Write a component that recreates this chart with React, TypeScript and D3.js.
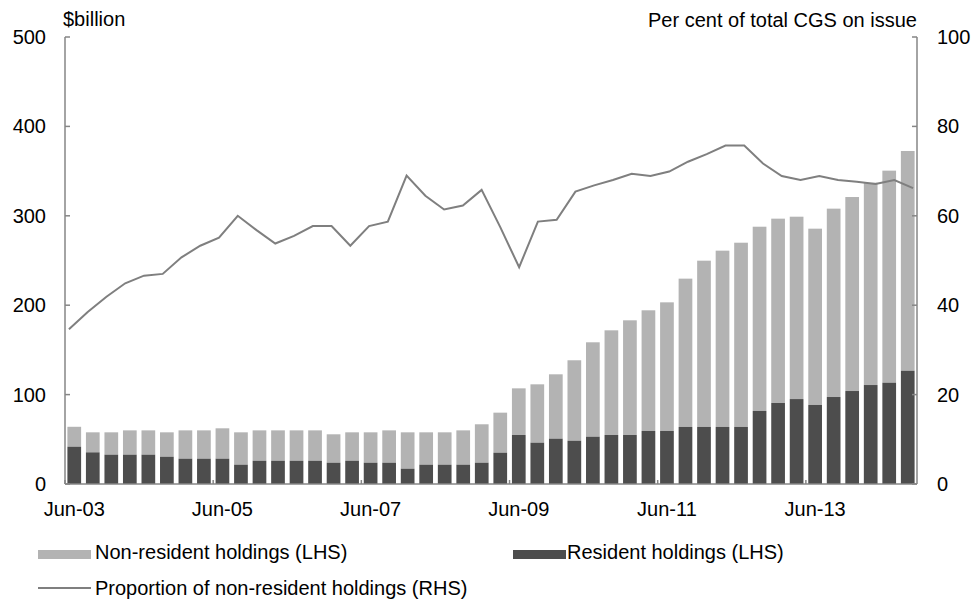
import { scaleBand, scaleLinear, scalePoint, line } from 'd3'

const quarters = [
  'Jun-03', 'Sep-03', 'Dec-03', 'Mar-04', 'Jun-04', 'Sep-04', 'Dec-04', 'Mar-05',
  'Jun-05', 'Sep-05', 'Dec-05', 'Mar-06', 'Jun-06', 'Sep-06', 'Dec-06', 'Mar-07',
  'Jun-07', 'Sep-07', 'Dec-07', 'Mar-08', 'Jun-08', 'Sep-08', 'Dec-08', 'Mar-09',
  'Jun-09', 'Sep-09', 'Dec-09', 'Mar-10', 'Jun-10', 'Sep-10', 'Dec-10', 'Mar-11',
  'Jun-11', 'Sep-11', 'Dec-11', 'Mar-12', 'Jun-12', 'Sep-12', 'Dec-12', 'Mar-13',
  'Jun-13', 'Sep-13', 'Dec-13', 'Mar-14', 'Jun-14', 'Sep-14',
]

// $billion, stacked: resident at the bottom, non-resident on top
const residentHoldings = [
  41.7, 35.4, 32.8, 32.8, 32.8, 30.5, 28.3, 28.3, 28.3, 21.6,
  26, 26, 26, 26, 23.8, 26, 23.8, 23.8, 17.1, 21.6,
  21.6, 21.6, 23.8, 35, 54.8, 46.2, 50.7, 48.4, 52.9, 54.8,
  54.8, 59.3, 59.3, 63.8, 63.8, 63.8, 63.8, 81.7, 90.6, 95,
  88.4, 97.3, 104, 110.7, 113.3, 126.7,
]

const nonResidentHoldings = [
  22.3, 22.4, 25, 27.2, 27.2, 27.3, 31.7, 31.7, 34, 36.2,
  34, 34, 34, 34, 31.8, 31.8, 34, 36.2, 40.7, 36.2,
  36.2, 38.4, 43, 44.8, 52.2, 65.3, 72, 90, 105.6, 117.1,
  128.3, 135, 143.9, 165.9, 186, 197.2, 206.1, 206.1, 206.2, 204,
  197.2, 210.7, 217, 226.3, 237.2, 245.8,
]

// per cent of total CGS on issue
const nonResidentShare = [
  34.6, 38.5, 41.9, 44.9, 46.6, 47, 50.7, 53.3, 55.1, 60,
  56.8, 53.8, 55.5, 57.7, 57.7, 53.3, 57.7, 58.7, 69, 64.5,
  61.4, 62.3, 65.8, 57.4, 48.5, 58.7, 59.1, 65.4, 66.8, 68,
  69.4, 68.9, 69.9, 72.1, 73.8, 75.7, 75.7, 71.7, 68.9, 68,
  68.9, 68, 67.6, 67.1, 68, 66.2,
]

const leftTicks = [0, 100, 200, 300, 400, 500]
const rightTicks = [0, 20, 40, 60, 80, 100]
const xTickLabels = ['Jun-03', 'Jun-05', 'Jun-07', 'Jun-09', 'Jun-11', 'Jun-13']

const width = 973
const height = 599
const margin = { top: 37, right: 56, bottom: 115, left: 65 }
const innerWidth = width - margin.left - margin.right
const innerHeight = height - margin.top - margin.bottom

const lightGrey = '#b3b3b3'
const darkGrey = '#4d4d4d'
const axisGrey = '#868686'
const font = 'Arial, "Liberation Sans", sans-serif'

export default function App() {
  const x = scaleBand<string>()
    .domain(quarters)
    .range([0, innerWidth])
    .paddingInner(0.26)
    .paddingOuter(0.13)

  const xLine = scalePoint<string>().domain(quarters).range([0, innerWidth]).padding(0.21)

  const yLeft = scaleLinear().domain([0, 500]).range([innerHeight, 0])
  const yRight = scaleLinear().domain([0, 100]).range([innerHeight, 0])

  const sharePath = line<number>()
    .x((_, i) => xLine(quarters[i]) ?? 0)
    .y((d) => yRight(d))(nonResidentShare)

  const step = x.step()
  const gap = (step * 0.26) / 2

  return (
    <div style={{ position: 'absolute', left: 0, top: 0 }}>
      <svg width={width} height={height} style={{ display: 'block', fontFamily: font }}>
        <rect width={width} height={height} fill="#fff" />
        <g transform={`translate(${margin.left}, ${margin.top})`}>
          {quarters.map((q, i) => {
            const bx = x(q) ?? 0
            const r = residentHoldings[i]
            const n = nonResidentHoldings[i]
            return (
              <g key={q}>
                <rect
                  x={bx}
                  width={x.bandwidth()}
                  y={yLeft(r + n)}
                  height={yLeft(r) - yLeft(r + n)}
                  fill={lightGrey}
                />
                <rect
                  x={bx}
                  width={x.bandwidth()}
                  y={yLeft(r)}
                  height={innerHeight - yLeft(r)}
                  fill={darkGrey}
                />
              </g>
            )
          })}

          <path d={sharePath ?? ''} fill="none" stroke="#7f7f7f" strokeWidth={2} />

          {/* axes */}
          <line x1={0} x2={0} y1={0} y2={innerHeight} stroke={axisGrey} strokeWidth={1.5} />
          <line x1={innerWidth} x2={innerWidth} y1={0} y2={innerHeight} stroke={axisGrey} strokeWidth={1.5} />
          <line x1={0} x2={innerWidth} y1={innerHeight} y2={innerHeight} stroke={axisGrey} strokeWidth={1.5} />

          {leftTicks.map((t) => (
            <g key={`l${t}`}>
              <line x1={0} x2={5} y1={yLeft(t)} y2={yLeft(t)} stroke={axisGrey} strokeWidth={1.5} />
              <text x={-19} y={yLeft(t)} dy="0.35em" textAnchor="end" fontSize={20}>
                {t}
              </text>
            </g>
          ))}

          {rightTicks.map((t) => (
            <g key={`r${t}`}>
              <line
                x1={innerWidth - 5}
                x2={innerWidth}
                y1={yRight(t)}
                y2={yRight(t)}
                stroke={axisGrey}
                strokeWidth={1.5}
              />
              <text x={innerWidth + 20} y={yRight(t)} dy="0.35em" fontSize={20}>
                {t}
              </text>
            </g>
          ))}

          {xTickLabels.map((label) => {
            const bx = x(label) ?? 0
            return (
              <g key={label}>
                <line
                  x1={bx - gap}
                  x2={bx - gap}
                  y1={innerHeight}
                  y2={innerHeight - 4}
                  stroke={axisGrey}
                  strokeWidth={1.5}
                />
                <text x={bx + x.bandwidth() / 2} y={innerHeight + 32} textAnchor="middle" fontSize={20}>
                  {label}
                </text>
              </g>
            )
          })}

          <text x={-2} y={-11} fontSize={20}>
            $billion
          </text>
          <text x={innerWidth} y={-10} textAnchor="end" fontSize={20}>
            Per cent of total CGS on issue
          </text>
        </g>

        {/* legend */}
        <g fontSize={20}>
          <rect x={38} y={550} width={53} height={9} fill={lightGrey} />
          <text x={95} y={559}>Non-resident holdings (LHS)</text>
          <rect x={513} y={550} width={53} height={9} fill={darkGrey} />
          <text x={567} y={559}>Resident holdings (LHS)</text>
          <line x1={38} x2={91} y1={588} y2={588} stroke="#7f7f7f" strokeWidth={2} />
          <text x={95} y={595}>Proportion of non-resident holdings (RHS)</text>
        </g>
      </svg>
    </div>
  )
}
